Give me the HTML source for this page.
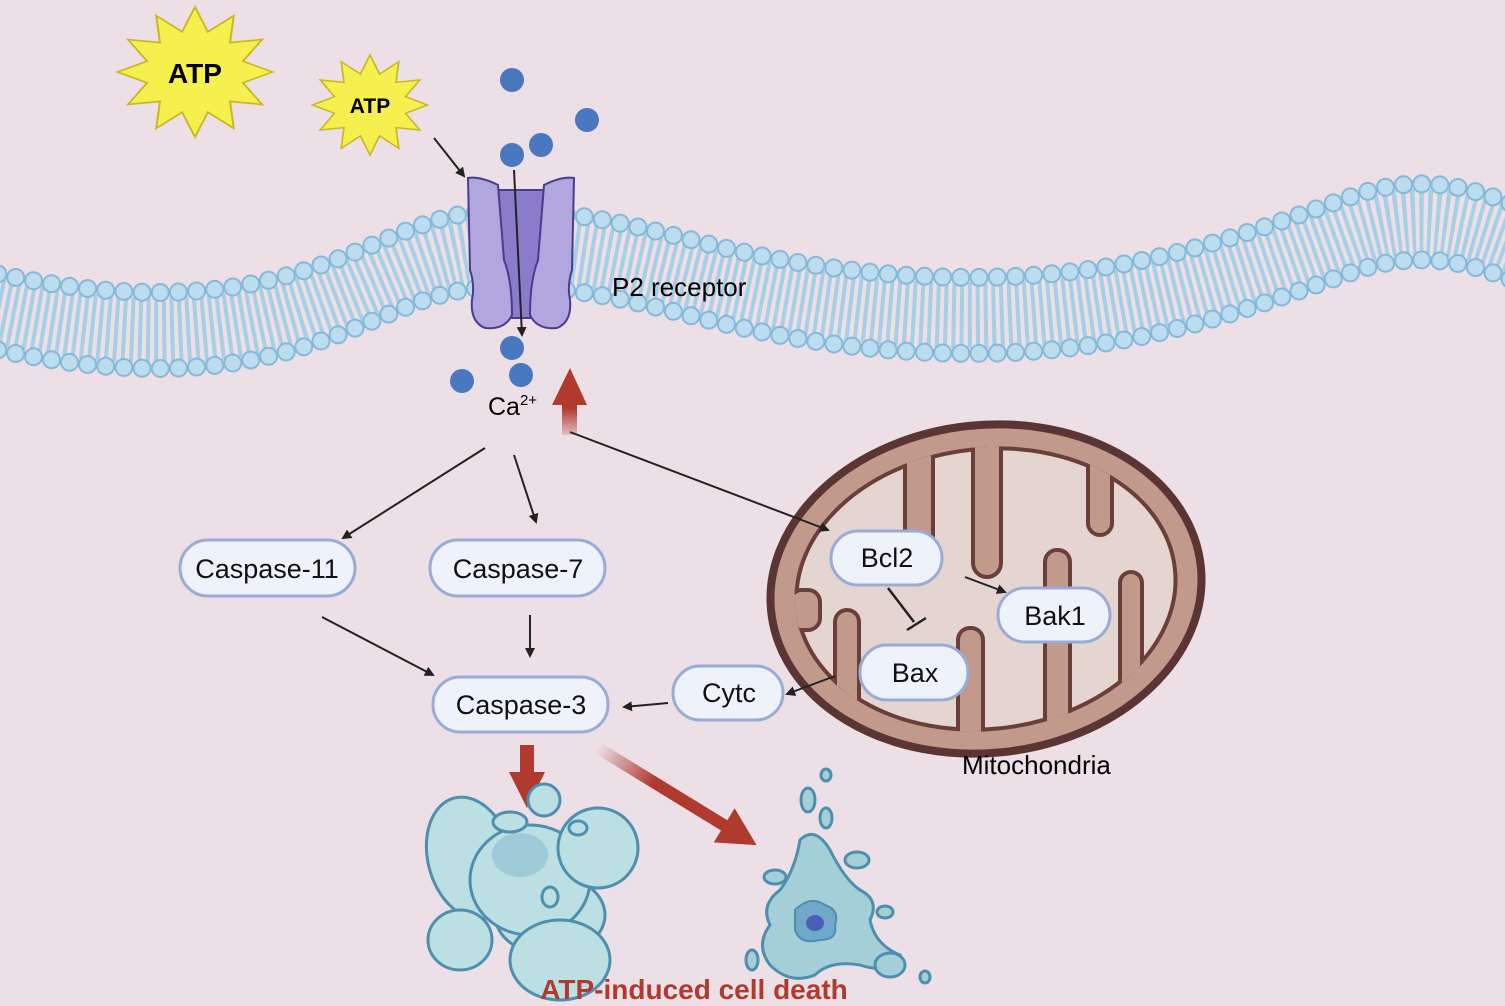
<!DOCTYPE html>
<html><head><meta charset="utf-8"><style>
html,body{margin:0;padding:0;background:#ecdfe6;}
svg{display:block;}
text{font-family:"Liberation Sans",sans-serif;}
</style></head><body>
<svg width="1505" height="1006" viewBox="0 0 1505 1006" xmlns="http://www.w3.org/2000/svg">
<defs>
<marker id="ah" viewBox="0 0 10 10" refX="8" refY="5" markerWidth="5" markerHeight="5" orient="auto"><path d="M0,0 L10,5 L0,10 z" fill="#222"/></marker>
<linearGradient id="rg1" x1="0" y1="0" x2="1" y2="0"><stop offset="0" stop-color="#b03a2e" stop-opacity="0"/><stop offset="0.35" stop-color="#b03a2e"/></linearGradient>
<linearGradient id="rgv" x1="0" y1="1" x2="0" y2="0"><stop offset="0" stop-color="#b03a2e" stop-opacity="0.2"/><stop offset="0.4" stop-color="#b03a2e"/></linearGradient>
<clipPath id="inner"><ellipse cx="986" cy="589" rx="192" ry="142" transform="rotate(-6 986 589)"/></clipPath>
</defs>
<rect width="1505" height="1006" fill="#ecdfe6"/>
<!-- membrane -->
<g fill="none">
<path d="M-20,308 C100,335 200,340 300,310 C380,285 420,255 480,250 C560,245 620,260 700,280 C800,305 900,318 1000,315 C1150,310 1250,270 1350,235 C1420,210 1470,225 1520,245" stroke="#a7cfe6" stroke-width="66" stroke-dasharray="4 4"/>
<g transform="translate(0,-38)">
<path d="M-20,308 C100,335 200,340 300,310 C380,285 420,255 480,250 C560,245 620,260 700,280 C800,305 900,318 1000,315 C1150,310 1250,270 1350,235 C1420,210 1470,225 1520,245" stroke="#86b8d8" stroke-width="19" stroke-linecap="round" stroke-dasharray="0 18.2"/>
<path d="M-20,308 C100,335 200,340 300,310 C380,285 420,255 480,250 C560,245 620,260 700,280 C800,305 900,318 1000,315 C1150,310 1250,270 1350,235 C1420,210 1470,225 1520,245" stroke="#bcdcef" stroke-width="15" stroke-linecap="round" stroke-dasharray="0 18.2"/>
</g>
<g transform="translate(0,38)">
<path d="M-20,308 C100,335 200,340 300,310 C380,285 420,255 480,250 C560,245 620,260 700,280 C800,305 900,318 1000,315 C1150,310 1250,270 1350,235 C1420,210 1470,225 1520,245" stroke="#86b8d8" stroke-width="19" stroke-linecap="round" stroke-dasharray="0 18.2"/>
<path d="M-20,308 C100,335 200,340 300,310 C380,285 420,255 480,250 C560,245 620,260 700,280 C800,305 900,318 1000,315 C1150,310 1250,270 1350,235 C1420,210 1470,225 1520,245" stroke="#bcdcef" stroke-width="15" stroke-linecap="round" stroke-dasharray="0 18.2"/>
</g>
</g>
<!-- ATP stars -->
<g transform="translate(195,72) scale(1.55,1.3)"><polygon points="50,0 30.9,8.3 43.3,25 22.6,22.6 25,43.3 8.3,30.9 0,50 -8.3,30.9 -25,43.3 -22.6,22.6 -43.3,25 -30.9,8.3 -50,0 -30.9,-8.3 -43.3,-25 -22.6,-22.6 -25,-43.3 -8.3,-30.9 0,-50 8.3,-30.9 25,-43.3 22.6,-22.6 43.3,-25 30.9,-8.3" fill="#f6f04e" stroke="#c9b823" stroke-width="1.3"/></g>
<text x="195" y="83" font-size="28" font-weight="bold" text-anchor="middle">ATP</text>
<g transform="translate(370,105) scale(1.15,1.0)"><polygon points="50,0 30.9,8.3 43.3,25 22.6,22.6 25,43.3 8.3,30.9 0,50 -8.3,30.9 -25,43.3 -22.6,22.6 -43.3,25 -30.9,8.3 -50,0 -30.9,-8.3 -43.3,-25 -22.6,-22.6 -25,-43.3 -8.3,-30.9 0,-50 8.3,-30.9 25,-43.3 22.6,-22.6 43.3,-25 30.9,-8.3" fill="#f6f04e" stroke="#c9b823" stroke-width="1.5"/></g>
<text x="370" y="113" font-size="21" font-weight="bold" text-anchor="middle">ATP</text>
<!-- receptor -->
<g stroke="#4b3b8c" stroke-width="2">
<path d="M490,190 L552,190 L545,260 L547,318 L496,318 L498,260 Z" fill="#8a7ccb"/>
<path d="M468,178 Q480,176 498,185 L504,260 Q512,280 512,315 Q505,330 485,328 Q470,322 472,300 Q475,285 470,270 Z" fill="#b2a6df"/>
<path d="M574,178 Q562,176 544,185 L538,260 Q530,280 530,315 Q537,330 557,328 Q572,322 570,300 Q567,285 572,270 Z" fill="#b2a6df"/>
</g>
<line x1="514" y1="170" x2="522" y2="335" stroke="#222" stroke-width="2" marker-end="url(#ah)"/>
<line x1="434" y1="138" x2="464" y2="176" stroke="#222" stroke-width="2" marker-end="url(#ah)"/>
<text x="612" y="296" font-size="26">P2 receptor</text>
<g fill="#4a78c0">
<circle cx="512" cy="80" r="12"/><circle cx="587" cy="120" r="12"/><circle cx="541" cy="145" r="12"/><circle cx="512" cy="155" r="12"/>
<circle cx="512" cy="348" r="12"/><circle cx="462" cy="381" r="12"/><circle cx="521" cy="375" r="12"/>
</g>
<text x="488" y="415" font-size="25">Ca<tspan font-size="15" dy="-10">2+</tspan></text>
<path d="M562,435 L562,405 L552,405 L570,368 L587,405 L577,405 L577,435 Z" fill="url(#rgv)"/>
<!-- mitochondria -->
<ellipse cx="986" cy="589" rx="216" ry="164" transform="rotate(-6 986 589)" fill="#c29a8c" stroke="#5b3434" stroke-width="8"/>
<ellipse cx="986" cy="589" rx="190" ry="140" transform="rotate(-6 986 589)" fill="#e4d5d0" stroke="#6a3e3a" stroke-width="4"/>
<g clip-path="url(#inner)" fill="#c29a8c" stroke="#6a3e3a" stroke-width="4">
<rect x="905" y="380" width="28" height="192" rx="14"/>
<rect x="973" y="380" width="28" height="197" rx="14"/>
<rect x="1088" y="380" width="24" height="155" rx="12"/>
<rect x="835" y="610" width="24" height="200" rx="12"/>
<rect x="958" y="628" width="25" height="200" rx="12"/>
<rect x="1045" y="550" width="25" height="260" rx="12"/>
<rect x="1120" y="572" width="22" height="230" rx="11"/>
<rect x="820" y="380" width="40" height="100" rx="18"/>
<rect x="790" y="590" width="30" height="40" rx="12"/>
</g>
<text x="962" y="774" font-size="26">Mitochondria</text>
<g stroke="#222" stroke-width="2" fill="none" marker-end="url(#ah)">
<line x1="570" y1="432" x2="828" y2="530"/>
<line x1="485" y1="448" x2="343" y2="538"/>
<line x1="514" y1="455" x2="536" y2="522"/>
<line x1="530" y1="615" x2="530" y2="656"/>
<line x1="322" y1="617" x2="433" y2="675"/>
<line x1="668" y1="703" x2="624" y2="707"/>
<line x1="835" y1="676" x2="787" y2="694"/>
<line x1="965" y1="577" x2="1005" y2="592"/>
</g>
<line x1="888" y1="588" x2="914" y2="622" stroke="#222" stroke-width="2.5"/>
<line x1="907" y1="630" x2="926" y2="618" stroke="#222" stroke-width="2.5"/>
<g fill="#eef2fa" stroke="#9aabd7" stroke-width="3">
<rect x="180" y="540" width="175" height="56" rx="28"/>
<rect x="430" y="540" width="175" height="56" rx="28"/>
<rect x="433" y="677" width="175" height="55" rx="27"/>
<rect x="673" y="666" width="110" height="54" rx="27"/>
<rect x="831" y="531" width="111" height="54" rx="27"/>
<rect x="998" y="588" width="112" height="54" rx="27"/>
<rect x="860" y="645" width="108" height="55" rx="27"/>
</g>
<g font-size="27" text-anchor="middle" fill="#111">
<text x="267" y="578">Caspase-11</text>
<text x="518" y="578">Caspase-7</text>
<text x="521" y="714">Caspase-3</text>
<text x="729" y="702">Cytc</text>
<text x="887" y="567">Bcl2</text>
<text x="1055" y="625">Bak1</text>
<text x="915" y="682">Bax</text>
</g>
<path d="M520,745 L534,745 L534,772 L545,772 L527,808 L509,772 L520,772 Z" fill="#b03a2e"/>
<g transform="translate(598,748) rotate(31.5)"><path d="M0,-6 L148,-6 L148,-20 L186,0 L148,20 L148,6 L0,6 Z" fill="url(#rg1)"/></g>
<!-- cell 1 -->
<g fill="#bcdfe3" stroke="#4d8fae" stroke-width="3">
<ellipse cx="470" cy="858" rx="42" ry="62" transform="rotate(-15 470 858)"/>
<ellipse cx="550" cy="915" rx="55" ry="40"/>
<ellipse cx="530" cy="880" rx="60" ry="55"/>
<ellipse cx="598" cy="848" rx="40" ry="40"/>
<ellipse cx="460" cy="940" rx="32" ry="30"/>
<ellipse cx="560" cy="960" rx="50" ry="40"/>
<ellipse cx="544" cy="800" rx="16" ry="16"/>
<ellipse cx="510" cy="822" rx="17" ry="10"/>
<ellipse cx="550" cy="897" rx="8" ry="10"/>
<ellipse cx="578" cy="828" rx="9" ry="7"/>
</g>
<ellipse cx="520" cy="855" rx="28" ry="22" fill="#9fcad8"/>
<!-- cell 2 -->
<g fill="#a5cfd8" stroke="#4d8fae" stroke-width="3">
<path d="M800,840 Q815,825 830,850 Q845,880 860,890 Q880,900 870,920 Q875,945 900,955 Q890,975 860,965 Q830,960 815,975 Q790,985 770,965 Q755,945 770,925 Q760,905 780,890 Q795,870 800,840 Z"/>
<ellipse cx="826" cy="775" rx="5" ry="6"/><ellipse cx="808" cy="800" rx="7" ry="12"/><ellipse cx="826" cy="818" rx="6" ry="10"/>
<ellipse cx="857" cy="860" rx="12" ry="8"/><ellipse cx="775" cy="877" rx="11" ry="7"/><ellipse cx="885" cy="912" rx="8" ry="6"/>
<ellipse cx="890" cy="965" rx="15" ry="12"/><ellipse cx="752" cy="960" rx="6" ry="10"/><ellipse cx="925" cy="977" rx="5" ry="6"/>
</g>
<path d="M795,910 Q810,895 825,905 Q840,910 835,925 Q838,940 820,940 Q800,945 795,930 Z" fill="#6fa8c8" stroke="#4d8fae" stroke-width="2"/>
<ellipse cx="815" cy="923" rx="9" ry="8" fill="#4a5fb5"/>
<text x="694" y="999" font-size="28" font-weight="bold" fill="#b03a2e" text-anchor="middle">ATP-induced cell death</text>
</svg>
</body></html>
